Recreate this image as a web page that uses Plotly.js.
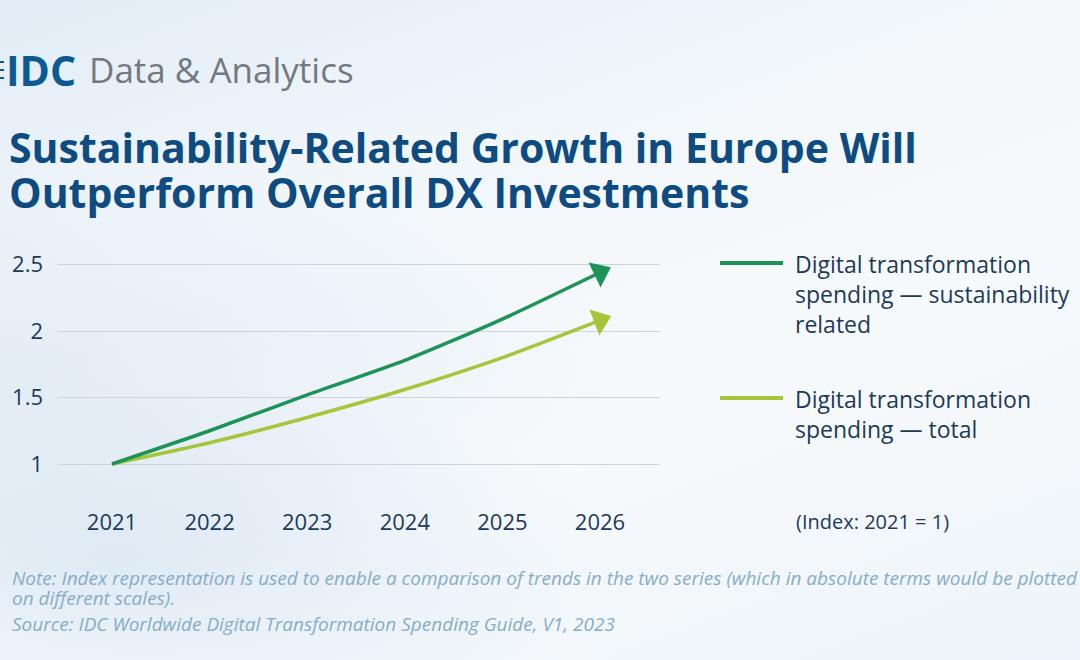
<!DOCTYPE html>
<html>
<head>
<meta charset="utf-8">
<script src="https://cdn.plot.ly/plotly-3.0.1.min.js"></script>
<style>
  html, body { margin: 0; padding: 0; }
  body {
    width: 1080px; height: 660px; overflow: hidden;
    background:
      radial-gradient(ellipse 700px 260px at 120px 560px, rgba(205,222,238,0.55), rgba(205,222,238,0) 70%),
      radial-gradient(ellipse 900px 300px at 0px 380px, rgba(214,228,242,0.55), rgba(214,228,242,0) 70%),
      linear-gradient(160deg, #e2edf7 0%, #f1f6fa 30%, #f7fafc 60%, #eef4f9 100%);
  }
  #chart { width: 1080px; height: 660px; }
</style>
</head>
<body>
<div id="chart"></div>
<script>
// ---- data ----
const years = [2021, 2022, 2023, 2024, 2025, 2026];
const sustainabilityRelated = [1.0, 1.25, 1.52, 1.78, 2.09, 2.44];
const totalSpending = [1.0, 1.16, 1.35, 1.56, 1.80, 2.08];
const yTicks = [1, 1.5, 2, 2.5];
const yTickLabels = ['1', '1.5', '2', '2.5'];
const seriesNames = [
  'Digital transformation<br>spending \u2014 sustainability<br>related',
  'Digital transformation<br>spending \u2014 total'
];
const titleLines = [
  'Sustainability-Related Growth in Europe Will',
  'Outperform Overall DX Investments'
];
const noteLines = [
  'Note: Index representation is used to enable a comparison of trends in the two series (which in absolute terms would be plotted',
  'on different scales).',
  'Source: IDC Worldwide Digital Transformation Spending Guide, V1, 2023'
];

// ---- layout helpers (pixel -> paper) ----
const L = 58, R = 660, T = 252, B = 484;
const px = x => (x - L) / (R - L);
const py = y => (B - y) / (B - T);

const darkGreen = '#1d9357';
const lightGreen = '#a5c63b';
const navy = '#1d3a58';

function arrowSymbols(n) {
  return years.map((_, i) => i === n - 1 ? 'triangle-up' : 'circle');
}
function arrowSizes(n) {
  return years.map((_, i) => i === n - 1 ? 24 : 0);
}

const traces = [
  {
    x: years, y: totalSpending, name: 'total', type: 'scatter', mode: 'lines+markers',
    line: { color: lightGreen, width: 3.5, shape: 'spline', smoothing: 0.6 },
    marker: { symbol: arrowSymbols(years.length), size: arrowSizes(years.length), color: lightGreen, opacity: 1, angleref: 'previous', line: { width: 0 } },
    opacity: 1, cliponaxis: false, hoverinfo: 'skip'
  },
  {
    x: years, y: sustainabilityRelated, name: 'sustainability', type: 'scatter', mode: 'lines+markers',
    line: { color: darkGreen, width: 3.5, shape: 'spline', smoothing: 0.6 },
    marker: { symbol: arrowSymbols(years.length), size: arrowSizes(years.length), color: darkGreen, opacity: 1, angleref: 'previous', line: { width: 0 } },
    opacity: 1, cliponaxis: false, hoverinfo: 'skip'
  }
];

const legendFont = { family: 'Open Sans, sans-serif', size: 23, color: navy };
const noteFont = { family: 'Open Sans, sans-serif', size: 19, color: '#86adc8', style: 'italic' };
const titleFont = { family: 'Open Sans, sans-serif', size: 41, color: '#0e4b80', weight: 700 };

function ann(x, y, text, font, xanchor, yanchor) {
  return { xref: 'paper', yref: 'paper', x: px(x), y: py(y), xanchor: xanchor || 'left', yanchor: yanchor || 'middle',
           align: 'left', showarrow: false, text: text, font: font };
}

const annotations = [
  // header
  ann(4, 70, '<b>IDC</b>', { family: 'Open Sans, sans-serif', size: 41, color: '#0c5a92' }),
  ann(87, 70, 'Data &amp; Analytics', { family: 'Open Sans, sans-serif', size: 35, color: '#74797f' }),
  // title
  ann(7, 147, titleLines[0], titleFont),
  ann(7, 192, titleLines[1], titleFont),
  // legend
  ann(793, 246, seriesNames[0], legendFont, 'left', 'top'),
  ann(793, 381, seriesNames[1], legendFont, 'left', 'top'),
  ann(794, 521, '(Index: 2021 = 1)', { family: 'Open Sans, sans-serif', size: 20, color: navy }),
  // notes
  ann(10, 578, noteLines[0], noteFont),
  ann(10, 598, noteLines[1], noteFont),
  ann(10, 624, noteLines[2], noteFont)
];

const shapes = [
  { type: 'line', xref: 'paper', yref: 'paper', x0: px(720), x1: px(783), y0: py(263), y1: py(263), line: { color: darkGreen, width: 4 } },
  { type: 'line', xref: 'paper', yref: 'paper', x0: px(720), x1: px(783), y0: py(398), y1: py(398), line: { color: lightGreen, width: 4 } },
  // logo stripes
  { type: 'line', xref: 'paper', yref: 'paper', x0: px(0), x1: px(4), y0: py(62), y1: py(62), line: { color: '#0c5a92', width: 2 } },
  { type: 'line', xref: 'paper', yref: 'paper', x0: px(0), x1: px(4), y0: py(70), y1: py(70), line: { color: '#0c5a92', width: 2 } },
  { type: 'line', xref: 'paper', yref: 'paper', x0: px(0), x1: px(4), y0: py(78), y1: py(78), line: { color: '#0c5a92', width: 2 } }
];

const layout = {
  width: 1080, height: 660,
  paper_bgcolor: 'rgba(0,0,0,0)', plot_bgcolor: 'rgba(0,0,0,0)',
  margin: { l: L, r: 1080 - R, t: T, b: 660 - B, pad: 0 },
  showlegend: false,
  xaxis: {
    range: [2021 - (112 - L) / 97.6, 2026 + (R - 600) / 97.6],
    tickvals: years, ticktext: years.map(String),
    showgrid: false, zeroline: false, showline: false, ticks: '',
    ticklabelstandoff: 23,
    tickfont: { family: 'Open Sans, sans-serif', size: 22, color: navy }
  },
  yaxis: {
    range: [1 - (B - 464) / 133, 1 + (464 - T) / 133],
    tickvals: yTicks, ticktext: yTickLabels,
    showgrid: true, gridcolor: '#cdd3d8', gridwidth: 1,
    zeroline: false, showline: false, ticks: '',
    ticklabelstandoff: 14,
    tickfont: { family: 'Open Sans, sans-serif', size: 22, color: navy }
  },
  annotations: annotations,
  shapes: shapes
};

Plotly.newPlot('chart', traces, layout, { displayModeBar: false, staticPlot: true });
</script>
</body>
</html>
